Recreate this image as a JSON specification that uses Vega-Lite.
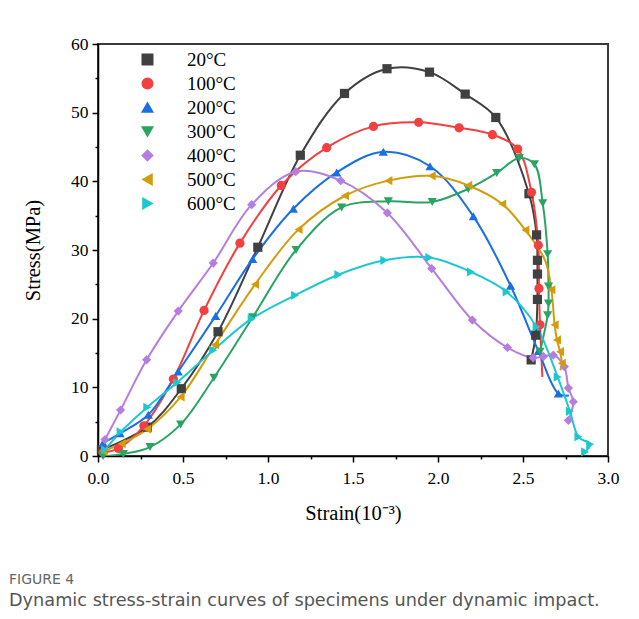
{
  "$schema": "https://vega.github.io/schema/vega-lite/v6.json",
  "width": 510,
  "height": 412,
  "autosize": {"type": "none"},
  "padding": {"left": 98, "top": 44, "right": 31, "bottom": 163},
  "background": "white",
  "config": {
    "view": {"stroke": "#3a3a3a", "strokeWidth": 2},
    "axis": {
      "grid": false,
      "domainColor": "#000",
      "domainWidth": 1.5,
      "tickColor": "#000",
      "tickWidth": 1.5,
      "labelFont": "Liberation Serif",
      "labelFontSize": 17.5,
      "labelColor": "#000",
      "titleFont": "Liberation Serif",
      "titleFontSize": 20.5,
      "titleFontWeight": "normal",
      "titleColor": "#000"
    },
    "legend": {
      "title": null,
      "orient": "none",
      "legendX": 40,
      "legendY": 6,
      "symbolSize": 110,
      "labelFont": "Liberation Serif",
      "labelFontSize": 19,
      "labelColor": "#000",
      "labelOffset": 30,
      "rowPadding": 4
    }
  },
  "title": {
    "text": "FIGURE 4",
    "subtitle": "Dynamic stress-strain curves of specimens under dynamic impact.",
    "orient": "bottom",
    "anchor": "start",
    "frame": "group",
    "dx": -89,
    "offset": 49,
    "font": "DejaVu Sans",
    "fontSize": 14,
    "fontWeight": "normal",
    "color": "#666666",
    "subtitleFont": "DejaVu Sans",
    "subtitleFontSize": 17.7,
    "subtitleColor": "#555555",
    "subtitlePadding": 5
  },
  "data": {
    "values": [
      {"s": "20°C", "i": 1, "x": 0.02, "y": 0.9, "m": 1},
      {"s": "20°C", "i": 2, "x": 0.29, "y": 4.2, "m": 1},
      {"s": "20°C", "i": 3, "x": 0.49, "y": 9.8, "m": 1},
      {"s": "20°C", "i": 4, "x": 0.706, "y": 18.1, "m": 1},
      {"s": "20°C", "i": 5, "x": 0.94, "y": 30.4, "m": 1},
      {"s": "20°C", "i": 6, "x": 1.19, "y": 43.8, "m": 1},
      {"s": "20°C", "i": 7, "x": 1.45, "y": 52.8, "m": 1},
      {"s": "20°C", "i": 8, "x": 1.7, "y": 56.4, "m": 1},
      {"s": "20°C", "i": 9, "x": 1.95, "y": 55.9, "m": 1},
      {"s": "20°C", "i": 10, "x": 2.16, "y": 52.7, "m": 1},
      {"s": "20°C", "i": 11, "x": 2.34, "y": 49.3, "m": 1},
      {"s": "20°C", "i": 12, "x": 2.535, "y": 38.2, "m": 1},
      {"s": "20°C", "i": 13, "x": 2.58, "y": 32.2, "m": 1},
      {"s": "20°C", "i": 14, "x": 2.585, "y": 28.5, "m": 1},
      {"s": "20°C", "i": 15, "x": 2.585, "y": 26.5, "m": 1},
      {"s": "20°C", "i": 16, "x": 2.585, "y": 22.8, "m": 1},
      {"s": "20°C", "i": 17, "x": 2.575, "y": 17.6, "m": 1},
      {"s": "20°C", "i": 18, "x": 2.548, "y": 14.0, "m": 1},

      {"s": "100°C", "i": 1, "x": 0.03, "y": 0.5, "m": 1},
      {"s": "100°C", "i": 2, "x": 0.12, "y": 1.1, "m": 1},
      {"s": "100°C", "i": 3, "x": 0.27, "y": 4.4, "m": 1},
      {"s": "100°C", "i": 4, "x": 0.443, "y": 11.2, "m": 1},
      {"s": "100°C", "i": 5, "x": 0.624, "y": 21.2, "m": 1},
      {"s": "100°C", "i": 6, "x": 0.835, "y": 31.0, "m": 1},
      {"s": "100°C", "i": 7, "x": 1.078, "y": 39.4, "m": 1},
      {"s": "100°C", "i": 8, "x": 1.345, "y": 44.9, "m": 1},
      {"s": "100°C", "i": 9, "x": 1.62, "y": 48.0, "m": 1},
      {"s": "100°C", "i": 10, "x": 1.886, "y": 48.6, "m": 1},
      {"s": "100°C", "i": 11, "x": 2.124, "y": 47.8, "m": 1},
      {"s": "100°C", "i": 12, "x": 2.32, "y": 46.8, "m": 1},
      {"s": "100°C", "i": 13, "x": 2.469, "y": 44.7, "m": 1},
      {"s": "100°C", "i": 14, "x": 2.55, "y": 38.4, "m": 1},
      {"s": "100°C", "i": 15, "x": 2.59, "y": 30.7, "m": 1},
      {"s": "100°C", "i": 16, "x": 2.594, "y": 24.4, "m": 1},
      {"s": "100°C", "i": 17, "x": 2.6, "y": 19.1, "m": 1},
      {"s": "100°C", "i": 18, "x": 2.614, "y": 11.5, "m": 0},

      {"s": "200°C", "i": 1, "x": 0.03, "y": 1.9, "m": 1},
      {"s": "200°C", "i": 2, "x": 0.13, "y": 3.3, "m": 1},
      {"s": "200°C", "i": 3, "x": 0.296, "y": 6.0, "m": 1},
      {"s": "200°C", "i": 4, "x": 0.472, "y": 12.3, "m": 1},
      {"s": "200°C", "i": 5, "x": 0.692, "y": 20.4, "m": 1},
      {"s": "200°C", "i": 6, "x": 0.91, "y": 28.7, "m": 1},
      {"s": "200°C", "i": 7, "x": 1.149, "y": 36.0, "m": 1},
      {"s": "200°C", "i": 8, "x": 1.404, "y": 41.3, "m": 1},
      {"s": "200°C", "i": 9, "x": 1.678, "y": 44.3, "m": 1},
      {"s": "200°C", "i": 10, "x": 1.953, "y": 42.2, "m": 1},
      {"s": "200°C", "i": 11, "x": 2.208, "y": 34.9, "m": 1},
      {"s": "200°C", "i": 12, "x": 2.427, "y": 24.8, "m": 1},
      {"s": "200°C", "i": 13, "x": 2.59, "y": 15.3, "m": 1},
      {"s": "200°C", "i": 14, "x": 2.708, "y": 9.1, "m": 1},
      {"s": "200°C", "i": 15, "x": 2.77, "y": 8.8, "m": 0},

      {"s": "300°C", "i": 1, "x": 0.03, "y": 0.0, "m": 1},
      {"s": "300°C", "i": 2, "x": 0.149, "y": 0.3, "m": 1},
      {"s": "300°C", "i": 3, "x": 0.306, "y": 1.3, "m": 1},
      {"s": "300°C", "i": 4, "x": 0.486, "y": 4.6, "m": 1},
      {"s": "300°C", "i": 5, "x": 0.682, "y": 11.4, "m": 1},
      {"s": "300°C", "i": 6, "x": 0.91, "y": 20.2, "m": 1},
      {"s": "300°C", "i": 7, "x": 1.165, "y": 30.0, "m": 1},
      {"s": "300°C", "i": 8, "x": 1.433, "y": 36.2, "m": 1},
      {"s": "300°C", "i": 9, "x": 1.708, "y": 37.1, "m": 1},
      {"s": "300°C", "i": 10, "x": 1.966, "y": 37.0, "m": 1},
      {"s": "300°C", "i": 11, "x": 2.178, "y": 38.9, "m": 1},
      {"s": "300°C", "i": 12, "x": 2.345, "y": 41.2, "m": 1},
      {"s": "300°C", "i": 13, "x": 2.478, "y": 43.4, "m": 1},
      {"s": "300°C", "i": 14, "x": 2.567, "y": 42.5, "m": 1},
      {"s": "300°C", "i": 15, "x": 2.616, "y": 36.8, "m": 1},
      {"s": "300°C", "i": 16, "x": 2.645, "y": 29.4, "m": 1},
      {"s": "300°C", "i": 17, "x": 2.65, "y": 24.7, "m": 1},
      {"s": "300°C", "i": 18, "x": 2.65, "y": 22.2, "m": 1},
      {"s": "300°C", "i": 19, "x": 2.645, "y": 20.5, "m": 1},
      {"s": "300°C", "i": 20, "x": 2.6, "y": 15.2, "m": 1},

      {"s": "400°C", "i": 1, "x": 0.041, "y": 2.4, "m": 1},
      {"s": "400°C", "i": 2, "x": 0.133, "y": 6.7, "m": 1},
      {"s": "400°C", "i": 3, "x": 0.286, "y": 14.0, "m": 1},
      {"s": "400°C", "i": 4, "x": 0.472, "y": 21.1, "m": 1},
      {"s": "400°C", "i": 5, "x": 0.678, "y": 28.1, "m": 1},
      {"s": "400°C", "i": 6, "x": 0.904, "y": 36.6, "m": 1},
      {"s": "400°C", "i": 7, "x": 1.163, "y": 41.4, "m": 1},
      {"s": "400°C", "i": 8, "x": 1.428, "y": 40.1, "m": 1},
      {"s": "400°C", "i": 9, "x": 1.702, "y": 35.4, "m": 1},
      {"s": "400°C", "i": 10, "x": 1.963, "y": 27.3, "m": 1},
      {"s": "400°C", "i": 11, "x": 2.202, "y": 19.8, "m": 1},
      {"s": "400°C", "i": 12, "x": 2.408, "y": 15.8, "m": 1},
      {"s": "400°C", "i": 13, "x": 2.56, "y": 14.3, "m": 1},
      {"s": "400°C", "i": 14, "x": 2.62, "y": 14.5, "m": 1},
      {"s": "400°C", "i": 15, "x": 2.678, "y": 14.7, "m": 1},
      {"s": "400°C", "i": 16, "x": 2.743, "y": 13.0, "m": 1},
      {"s": "400°C", "i": 17, "x": 2.767, "y": 9.9, "m": 1},
      {"s": "400°C", "i": 18, "x": 2.796, "y": 7.9, "m": 1},
      {"s": "400°C", "i": 19, "x": 2.767, "y": 5.2, "m": 1},

      {"s": "500°C", "i": 1, "x": 0.031, "y": 0.7, "m": 1},
      {"s": "500°C", "i": 2, "x": 0.139, "y": 1.8, "m": 1},
      {"s": "500°C", "i": 3, "x": 0.29, "y": 3.9, "m": 1},
      {"s": "500°C", "i": 4, "x": 0.486, "y": 8.6, "m": 1},
      {"s": "500°C", "i": 5, "x": 0.688, "y": 16.2, "m": 1},
      {"s": "500°C", "i": 6, "x": 0.924, "y": 25.0, "m": 1},
      {"s": "500°C", "i": 7, "x": 1.18, "y": 33.0, "m": 1},
      {"s": "500°C", "i": 8, "x": 1.453, "y": 37.9, "m": 1},
      {"s": "500°C", "i": 9, "x": 1.708, "y": 40.1, "m": 1},
      {"s": "500°C", "i": 10, "x": 1.963, "y": 40.8, "m": 1},
      {"s": "500°C", "i": 11, "x": 2.178, "y": 39.4, "m": 1},
      {"s": "500°C", "i": 12, "x": 2.378, "y": 36.7, "m": 1},
      {"s": "500°C", "i": 13, "x": 2.514, "y": 32.9, "m": 1},
      {"s": "500°C", "i": 14, "x": 2.63, "y": 28.5, "m": 0},
      {"s": "500°C", "i": 15, "x": 2.667, "y": 24.2, "m": 1},
      {"s": "500°C", "i": 16, "x": 2.686, "y": 19.1, "m": 1},
      {"s": "500°C", "i": 17, "x": 2.7, "y": 16.9, "m": 1},
      {"s": "500°C", "i": 18, "x": 2.718, "y": 15.2, "m": 1},
      {"s": "500°C", "i": 19, "x": 2.728, "y": 13.5, "m": 1},
      {"s": "500°C", "i": 20, "x": 2.72, "y": 12.5, "m": 0},

      {"s": "600°C", "i": 1, "x": 0.041, "y": 0.9, "m": 1},
      {"s": "600°C", "i": 2, "x": 0.133, "y": 3.5, "m": 1},
      {"s": "600°C", "i": 3, "x": 0.29, "y": 7.1, "m": 1},
      {"s": "600°C", "i": 4, "x": 0.466, "y": 10.7, "m": 1},
      {"s": "600°C", "i": 5, "x": 0.678, "y": 15.4, "m": 1},
      {"s": "600°C", "i": 6, "x": 0.904, "y": 20.0, "m": 1},
      {"s": "600°C", "i": 7, "x": 1.159, "y": 23.4, "m": 1},
      {"s": "600°C", "i": 8, "x": 1.414, "y": 26.4, "m": 1},
      {"s": "600°C", "i": 9, "x": 1.684, "y": 28.5, "m": 1},
      {"s": "600°C", "i": 10, "x": 1.949, "y": 28.9, "m": 1},
      {"s": "600°C", "i": 11, "x": 2.194, "y": 26.8, "m": 1},
      {"s": "600°C", "i": 12, "x": 2.404, "y": 23.9, "m": 1},
      {"s": "600°C", "i": 13, "x": 2.58, "y": 18.8, "m": 1},
      {"s": "600°C", "i": 14, "x": 2.704, "y": 11.5, "m": 1},
      {"s": "600°C", "i": 15, "x": 2.776, "y": 6.5, "m": 1},
      {"s": "600°C", "i": 16, "x": 2.826, "y": 2.8, "m": 1},
      {"s": "600°C", "i": 17, "x": 2.895, "y": 1.7, "m": 1},
      {"s": "600°C", "i": 18, "x": 2.865, "y": 0.6, "m": 1}
    ]
  },
  "encoding": {
    "x": {
      "field": "x",
      "type": "quantitative",
      "scale": {"domain": [0, 3], "nice": false, "zero": false},
      "axis": {
        "title": "Strain(10⁻³)",
        "values": [0, 0.25, 0.5, 0.75, 1, 1.25, 1.5, 1.75, 2, 2.25, 2.5, 2.75, 3],
        "labelExpr": "datum.value % 0.5 === 0 ? format(datum.value, '.1f') : ''",
        "tickSize": {"condition": {"test": "datum.value % 0.5 === 0", "value": 6}, "value": 3},
        "labelPadding": 7,
        "titlePadding": 17,
        "labelFlush": false
      }
    },
    "y": {
      "field": "y",
      "type": "quantitative",
      "scale": {"domain": [0, 60], "nice": false},
      "axis": {
        "title": "Stress(MPa)",
        "values": [0, 5, 10, 15, 20, 25, 30, 35, 40, 45, 50, 55, 60],
        "labelExpr": "datum.value % 10 === 0 ? datum.label : ''",
        "tickSize": {"condition": {"test": "datum.value % 10 === 0", "value": 6}, "value": 3},
        "labelPadding": 4,
        "titlePadding": 27,
        "labelFlush": false
      }
    }
  },
  "layer": [
    {
      "mark": {"type": "line", "interpolate": "catmull-rom", "strokeWidth": 2, "clip": true},
      "encoding": {
        "order": {"field": "i", "type": "quantitative"},
        "detail": {"field": "s", "type": "nominal"},
        "stroke": {
          "field": "s",
          "type": "nominal",
          "scale": {
            "domain": ["20°C", "100°C", "200°C", "300°C", "400°C", "500°C", "600°C"],
            "range": ["#404040", "#f23f3f", "#1a6fe3", "#2aa463", "#b47ee0", "#d49c0c", "#1cc8d0"]
          }
        }
      }
    },
    {
      "transform": [{"filter": "datum.m === 1"}],
      "mark": {"type": "point", "filled": true, "opacity": 1, "size": 85},
      "encoding": {
        "color": {
          "field": "s",
          "type": "nominal",
          "scale": {
            "domain": ["20°C", "100°C", "200°C", "300°C", "400°C", "500°C", "600°C"],
            "range": ["#404040", "#f23f3f", "#1a6fe3", "#2aa463", "#b47ee0", "#d49c0c", "#1cc8d0"]
          }
        },
        "shape": {
          "field": "s",
          "type": "nominal",
          "scale": {
            "domain": ["20°C", "100°C", "200°C", "300°C", "400°C", "500°C", "600°C"],
            "range": ["square", "circle", "triangle-up", "triangle-down", "diamond", "triangle-left", "triangle-right"]
          }
        }
      }
    }
  ]
}
